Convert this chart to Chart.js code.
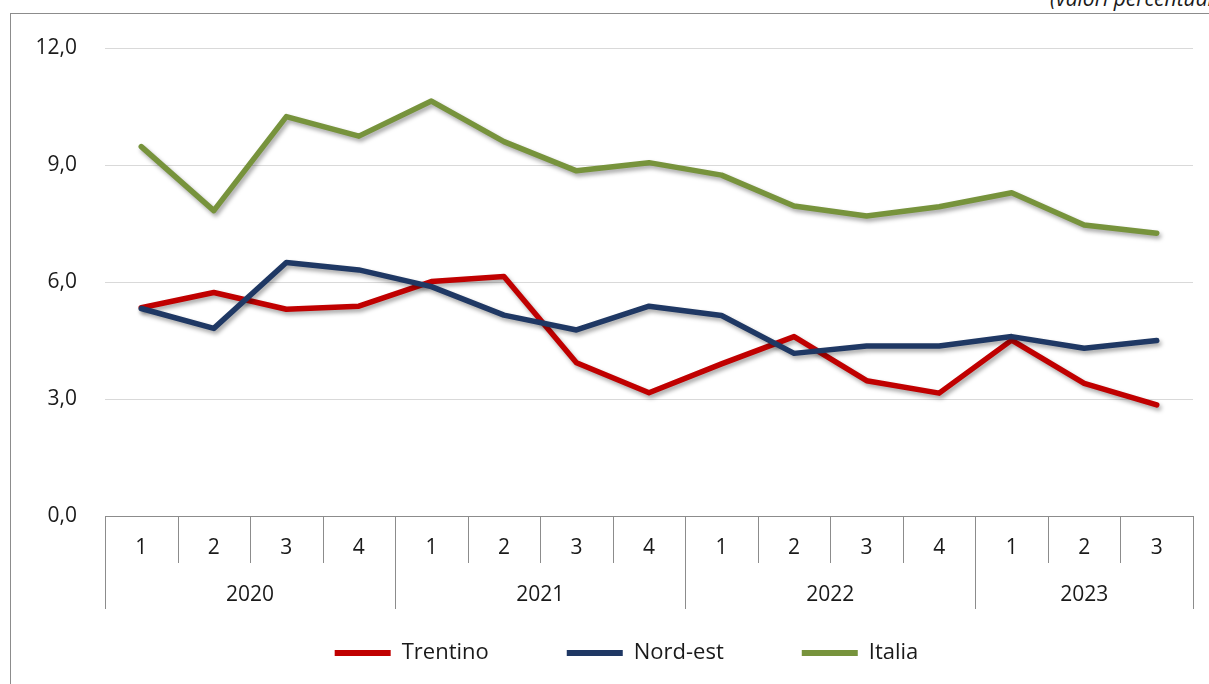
<!DOCTYPE html>
<html>
<head>
<meta charset="utf-8">
<script src="https://cdn.jsdelivr.net/npm/chart.js@4.4.1/dist/chart.umd.min.js"></script>
<style>
    body { margin: 0; background: #fff; overflow: hidden; }
    #wrap { position: relative; width: 1209px; height: 684px; overflow: hidden; }
    #frame { position: absolute; left: 10px; top: 13px; width: 1400px; height: 900px; border: 1px solid #8c8c8c; pointer-events: none; }
    #note { position: absolute; left: 1050px; top: -16px; font: italic 21px "Open Sans", sans-serif; color: #1a1a1a; white-space: nowrap; }
    canvas { position: absolute; left: 0; top: 0; }
</style>
</head>
<body>
<div id="wrap">
    <div id="note">(valori percentuali)</div>
    <div id="frame"></div>
    <canvas id="myChart" width="1209" height="684"></canvas>
</div>
<script>
// #region data
const quarters = ['1', '2', '3', '4', '1', '2', '3', '4', '1', '2', '3', '4', '1', '2', '3'];
const years = ['2020', '2020', '2020', '2020', '2021', '2021', '2021', '2021',
    '2022', '2022', '2022', '2022', '2023', '2023', '2023'];

const trentino = [5.34, 5.73, 5.30, 5.38, 6.01, 6.14, 3.93, 3.16, 3.90, 4.60, 3.47, 3.15, 4.51, 3.40, 2.85];
const nordEst = [5.32, 4.81, 6.50, 6.31, 5.88, 5.15, 4.77, 5.38, 5.14, 4.17, 4.36, 4.36, 4.60, 4.30, 4.50];
const italia = [9.47, 7.83, 10.24, 9.74, 10.64, 9.60, 8.85, 9.06, 8.74, 7.95, 7.69, 7.93, 8.29, 7.46, 7.25];

const yTickLabels = ['0,0', '3,0', '6,0', '9,0', '12,0'];
// #endregion data

const
    graph = document.querySelector('#myChart'),
    fontFamily = '"Open Sans", sans-serif',
    axisGray = '#8c8c8c';

// soft drop shadow under the lines
const shadowPlugin = {
    id: 'shadow',
    beforeDatasetsDraw(chart) {
        const ctx = chart.ctx;
        ctx.save();
        ctx.shadowColor = 'rgba(0,0,0,0.35)';
        ctx.shadowBlur = 4;
        ctx.shadowOffsetX = 2;
        ctx.shadowOffsetY = 3;
    },
    afterDatasetsDraw(chart) {
        chart.ctx.restore();
    }
};

// legend sits a bit right of the canvas centre in the original
const legendShift = {
    id: 'legendShift',
    afterLayout(chart) {
        chart.legend.left += 25;
        chart.legend.right += 25;
    }
};

// two-level category axis: quarters + years with separators
const groupAxisPlugin = {
    id: 'groupAxis',
    afterDraw(chart) {
        const ctx = chart.ctx;
        const x = chart.scales.x;
        const top = chart.chartArea.bottom;
        const half = (x.getPixelForValue(1) - x.getPixelForValue(0)) / 2;

        ctx.save();
        ctx.strokeStyle = axisGray;
        ctx.lineWidth = 1;
        ctx.beginPath();
        ctx.moveTo(x.left, top + 0.5);
        ctx.lineTo(x.right, top + 0.5);

        for (let i = 0; i <= quarters.length; i++) {
            const px = Math.round(x.getPixelForValue(i) - half) + 0.5;
            const yearEdge = i === 0 || i === quarters.length || years[i] !== years[i - 1];
            ctx.moveTo(px, top);
            ctx.lineTo(px, top + (yearEdge ? 93 : 47));
        }
        ctx.stroke();

        ctx.fillStyle = '#1a1a1a';
        ctx.font = '21px ' + fontFamily;
        ctx.textAlign = 'center';
        ctx.textBaseline = 'middle';
        quarters.forEach((q, i) => {
            ctx.fillText(q, x.getPixelForValue(i), top + 32);
        });

        let start = 0;
        for (let i = 1; i <= years.length; i++) {
            if (i === years.length || years[i] !== years[start]) {
                const mid = (x.getPixelForValue(start) + x.getPixelForValue(i - 1)) / 2;
                ctx.fillText(years[start], mid, top + 79);
                start = i;
            }
        }
        ctx.restore();
    }
};

new Chart(graph.getContext('2d'), {
    type: 'line',
    data: {
        labels: quarters,
        datasets: [
            { label: 'Trentino', data: trentino, borderColor: '#c00000', backgroundColor: '#c00000', order: 3 },
            { label: 'Nord-est', data: nordEst, borderColor: '#1f3864', backgroundColor: '#1f3864', order: 2 },
            { label: 'Italia', data: italia, borderColor: '#77933c', backgroundColor: '#77933c', order: 1 }
        ]
    },
    options: {
        responsive: false,
        animation: false,
        layout: { padding: { left: 10, right: 16, top: 48, bottom: 10 } },
        elements: {
            line: { borderWidth: 5.5, tension: 0, borderJoinStyle: 'round', borderCapStyle: 'round' },
            point: { radius: 0, hoverRadius: 0 }
        },
        scales: {
            x: {
                offset: true,
                grid: { display: false },
                border: { display: false },
                ticks: { display: false },
                afterFit: (s) => { s.height = 48; }
            },
            y: {
                min: 0,
                max: 12,
                grid: { color: '#d9d9d9', lineWidth: 1, drawTicks: false },
                border: { display: false },
                ticks: {
                    stepSize: 3,
                    padding: 28,
                    color: '#1a1a1a',
                    font: { family: fontFamily, size: 21 },
                    callback: (v, i) => yTickLabels[i]
                },
                afterFit: (s) => { s.width = 95; }
            }
        },
        plugins: {
            tooltip: { enabled: false },
            legend: {
                position: 'bottom',
                labels: {
                    boxWidth: 56,
                    boxHeight: 6,
                    padding: 78,
                    color: '#1a1a1a',
                    font: { family: fontFamily, size: 22 },
                    sort: (a, b) => a.datasetIndex - b.datasetIndex,
                    generateLabels: (chart) =>
                        Chart.defaults.plugins.legend.labels.generateLabels(chart)
                            .map((l) => Object.assign(l, { lineWidth: 0 }))
                }
            }
        }
    },
    plugins: [shadowPlugin, legendShift, groupAxisPlugin]
});
</script>
</body>
</html>
